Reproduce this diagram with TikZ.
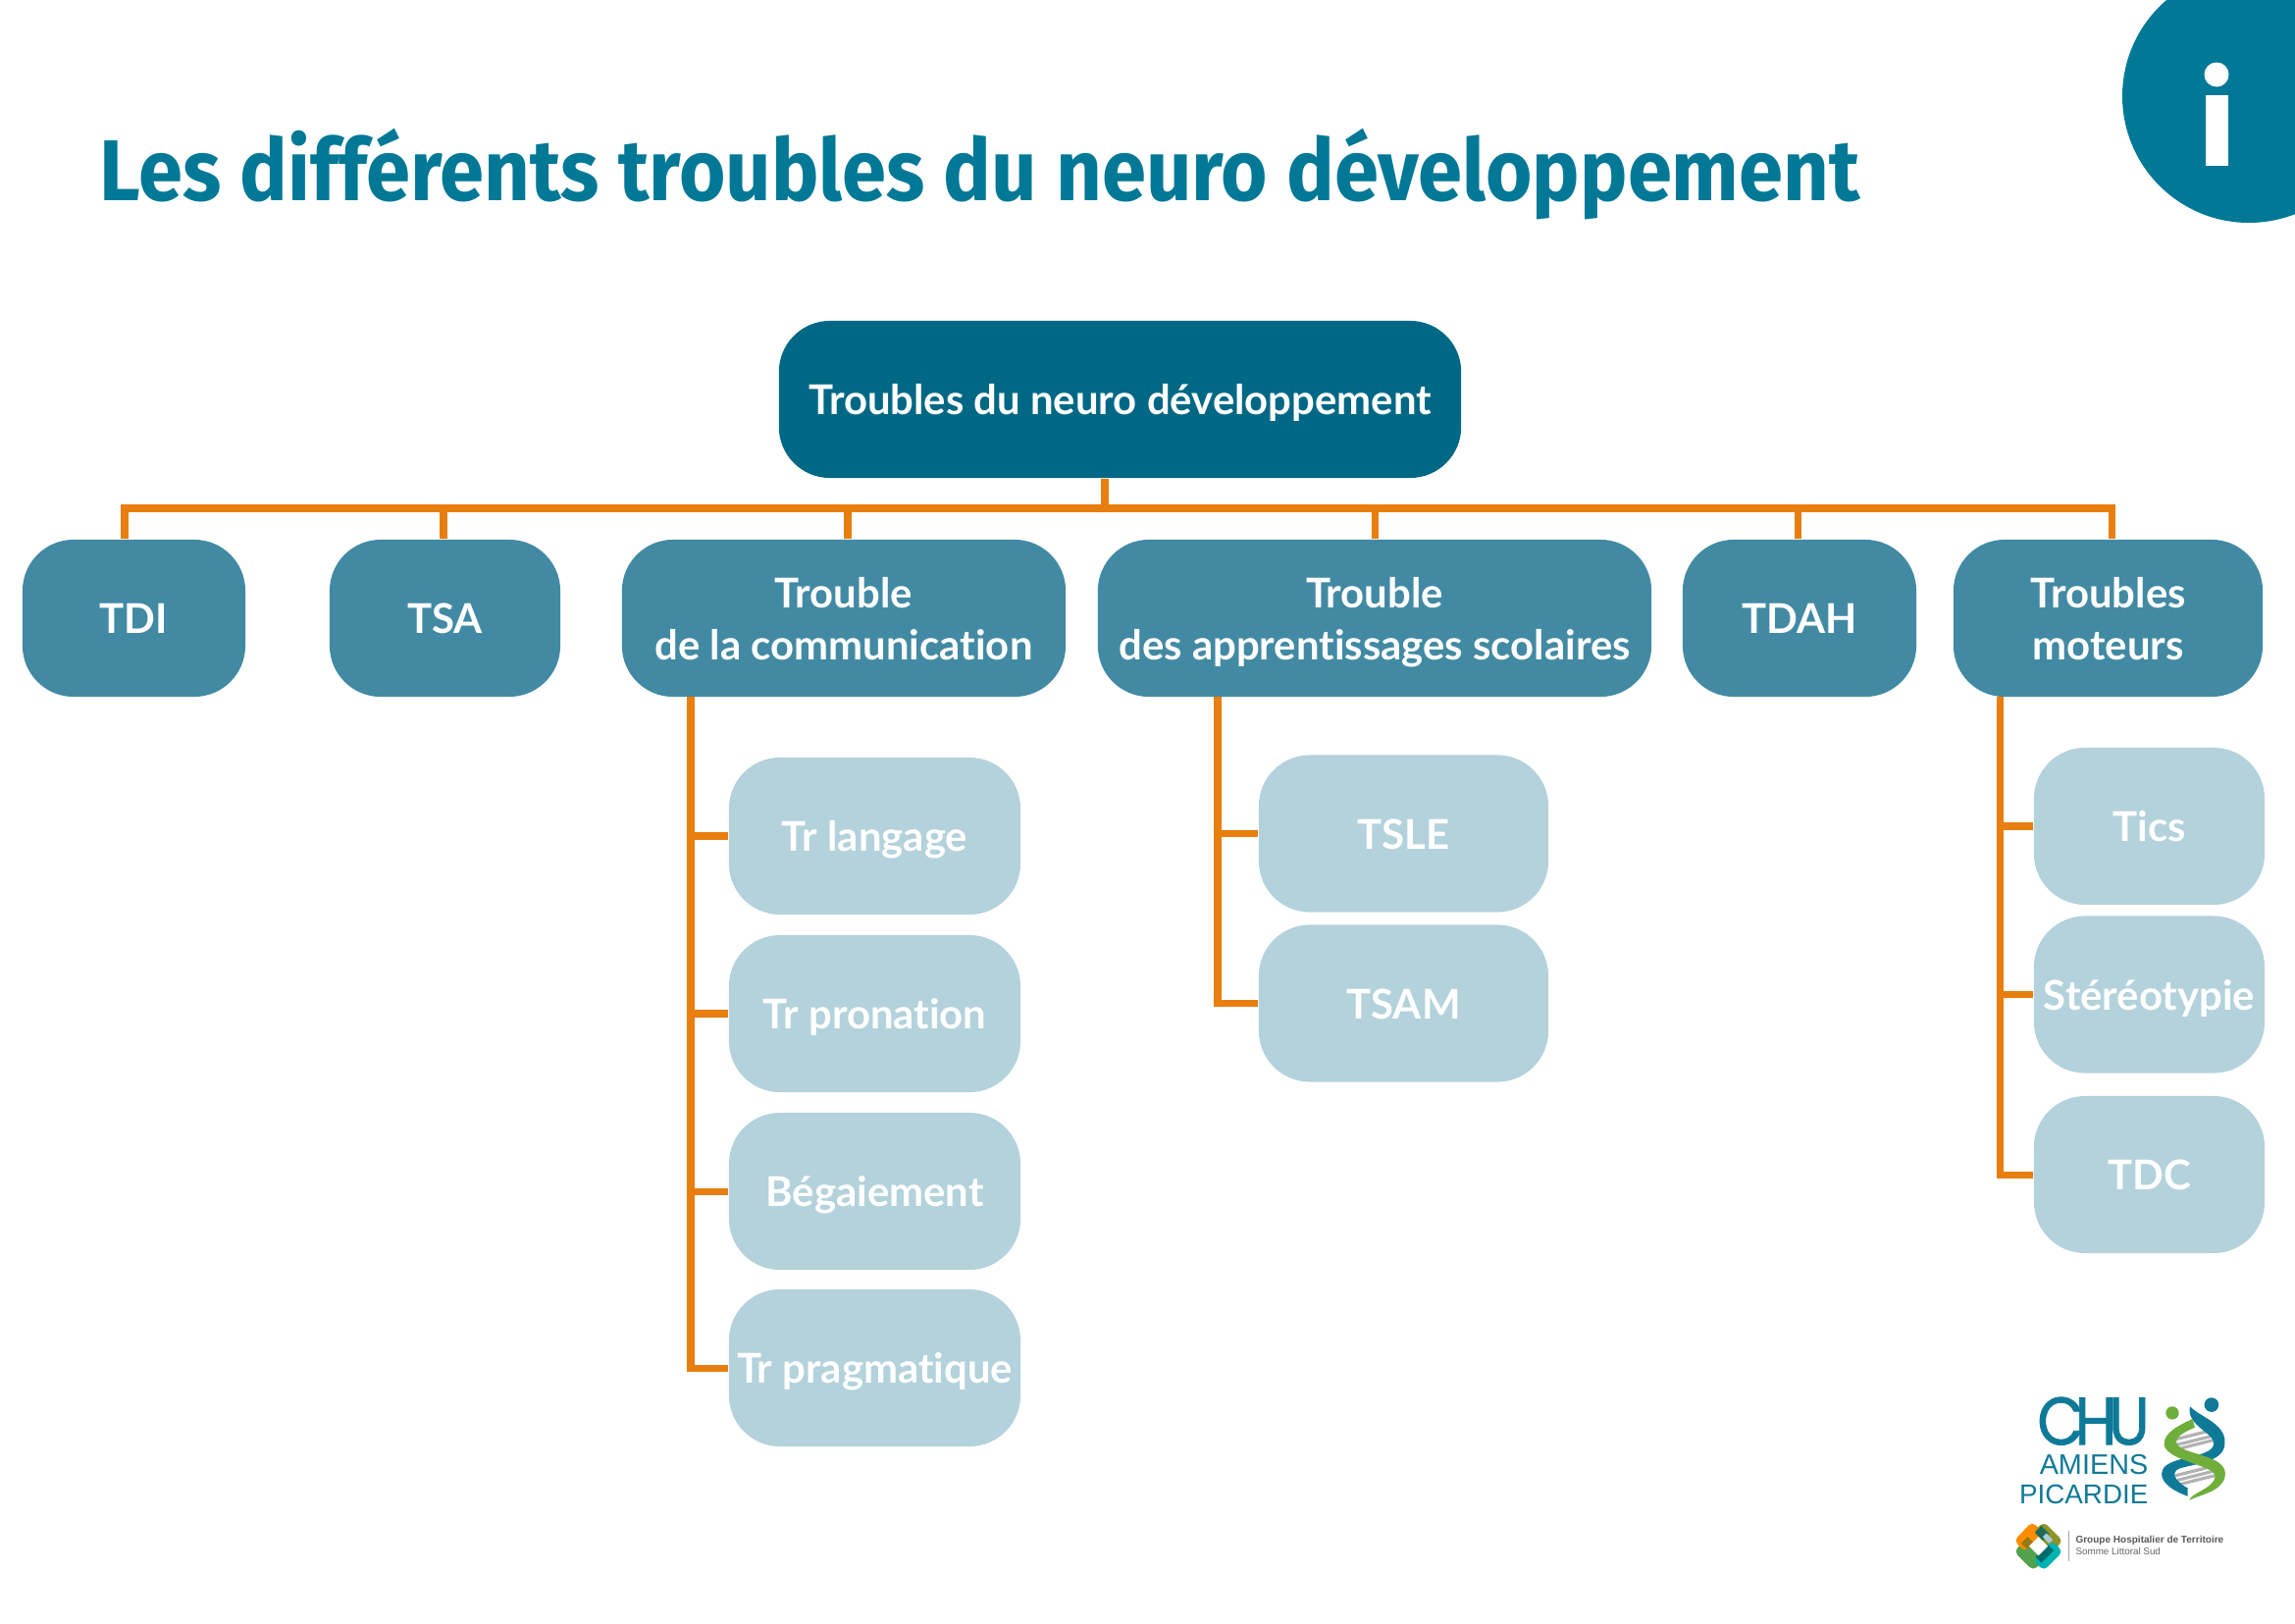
\documentclass[tikz,border=0pt]{standalone}
\usepackage{fontspec}
\usepackage{graphicx}
\setmainfont{Lato}[Ligatures=NoCommon]
\newfontfamily\titlefont{Fira Sans}
\newfontfamily\logofont{Liberation Sans}
\newfontfamily\chufont[FakeBold=1.2]{Poppins}
\usetikzlibrary{calc}
\definecolor{titleblue}{HTML}{007896}
\definecolor{rootblue}{HTML}{006884}
\definecolor{midblue}{HTML}{428AA3}
\definecolor{lightblue}{HTML}{B3D2DB}
\definecolor{conn}{HTML}{E87E0D}
\definecolor{logoblue}{HTML}{0F7A98}
\definecolor{logogreen}{HTML}{6FAE3A}
\newcommand\lnstrut{\rule[-2.8pt]{0pt}{14.6pt}}
\tikzset{
  box/.style={rounded corners=0.52cm,inner sep=0pt,align=center,text=white,
    font=\fontsize{11.9pt}{14.9pt}\selectfont\bfseries},
  rootbox/.style={box,fill=rootblue},
  midbox/.style={box,fill=midblue},
  leafbox/.style={box,fill=lightblue},
  link/.style={draw=conn,line width=2pt},
  lobe/.style={rounded corners=1.4pt},
}
\begin{document}
\begin{tikzpicture}[x=0.01cm,y=-0.01cm]
\useasboundingbox (0,0) rectangle (2339,1654);
% corner disc
\begin{scope}
\clip (0,0) rectangle (2339,1654);
\fill[titleblue] (2292,98) circle (129);
\end{scope}
\fill[white] (2259,76) circle (12.5);
\fill[white] (2248,97) rectangle (2271,169);
% title
\node[anchor=base west,inner sep=0pt,text=titleblue,font=\titlefont\fontsize{25pt}{30pt}\selectfont\bfseries] (title) at (101,204) {\scalebox{0.925}[1]{Les différents troubles du neuro développement}};
% nodes
\node[rootbox,minimum width=6.95cm,minimum height=1.60cm] (root) at (1141.5,407) {\lnstrut Troubles du neuro développement};
\node[midbox,minimum width=2.27cm,minimum height=1.60cm] (tdi) at (136.5,630) {\lnstrut TDI};
\node[midbox,minimum width=2.35cm,minimum height=1.60cm] (tsa) at (453.5,630) {\lnstrut TSA};
\node[midbox,minimum width=4.52cm,minimum height=1.60cm] (comm) at (860,630) {\lnstrut Trouble\\\lnstrut de la communication};
\node[midbox,minimum width=5.64cm,minimum height=1.60cm] (appr) at (1401,630) {\lnstrut Trouble\\\lnstrut des apprentissages scolaires};
\node[midbox,minimum width=2.38cm,minimum height=1.60cm] (tdah) at (1834,630) {\lnstrut TDAH};
\node[midbox,minimum width=3.15cm,minimum height=1.60cm] (mot) at (2148.5,630) {\lnstrut Troubles\\\lnstrut moteurs};
\node[leafbox,minimum width=2.97cm,minimum height=1.60cm] (c1) at (891.5,852) {\lnstrut Tr langage};
\node[leafbox,minimum width=2.97cm,minimum height=1.60cm] (c2) at (891.5,1033) {\lnstrut Tr pronation};
\node[leafbox,minimum width=2.97cm,minimum height=1.60cm] (c3) at (891.5,1214) {\lnstrut Bégaiement};
\node[leafbox,minimum width=2.97cm,minimum height=1.60cm] (c4) at (891.5,1394) {\lnstrut Tr pragmatique};
\node[leafbox,minimum width=2.95cm,minimum height=1.60cm] (a1) at (1430.5,849.5) {\lnstrut TSLE};
\node[leafbox,minimum width=2.95cm,minimum height=1.60cm] (a2) at (1430.5,1022.5) {\lnstrut TSAM};
\node[leafbox,minimum width=2.35cm,minimum height=1.60cm] (m1) at (2190.5,842) {\lnstrut Tics};
\node[leafbox,minimum width=2.35cm,minimum height=1.60cm] (m2) at (2190.5,1013.5) {\lnstrut Stéréotypie};
\node[leafbox,minimum width=2.35cm,minimum height=1.60cm] (m3) at (2190.5,1197) {\lnstrut TDC};
% connectors
\coordinate (busl) at (127,518);
\coordinate (busr) at (2152,518);
\coordinate (rootdrop) at (1126,518);
\coordinate (d2) at (452,518);
\coordinate (d3) at (864,518);
\coordinate (d4) at (1401,518);
\coordinate (d5) at (1832,518);
\coordinate (cx) at (704,710);
\coordinate (ax) at (1241,710);
\coordinate (mx) at (2038,710);
\draw[link,line join=miter] (tdi.north -| busl) -- (busl) -- (busr) -- (mot.north -| busr);
\draw[link] (root.south -| rootdrop) -- (rootdrop);
\draw[link] (d2) -- (tsa.north -| d2);
\draw[link] (d3) -- (comm.north -| d3);
\draw[link] (d4) -- (appr.north -| d4);
\draw[link] (d5) -- (tdah.north -| d5);
\foreach \n in {c1,c2,c3,c4} \draw[link] (cx) |- (\n.west);
\foreach \n in {a1,a2} \draw[link] (ax) |- (\n.west);
\foreach \n in {m1,m2,m3} \draw[link] (mx) |- (\n.west);
% logo, in coordinates of a 3x crop at (1980,1380)
\begin{scope}[shift={(1980,1380)},x=0.003333cm,y=-0.003333cm]
\node[inner sep=0pt,anchor=base east,text=logoblue] (chu) at (635,277) {\chufont\scalebox{0.9}[1]{\fontsize{19.5pt}{20pt}\selectfont C\kern-3pt H\kern-2.6pt U}};
\node[inner sep=0pt,anchor=base east,text=logoblue,font=\logofont\fontsize{8.2pt}{9pt}\selectfont] (amiens) at (631,367) {AMIENS};
\node[inner sep=0pt,anchor=base east,text=logoblue,font=\logofont\fontsize{7.9pt}{9pt}\selectfont] (picardie) at (631,457) {PICARDIE};
\fill[logogreen] (703,180) circle (20);
\fill[logoblue] (823,155) circle (22);
% rungs
\foreach \a/\b in {708/262,715/278,722/290}
  \draw[gray!60,line width=0.9pt] (\a,\b) -- ++(112,-28);
\foreach \a/\b in {712/372,718/386,728/398}
  \draw[gray!60,line width=0.9pt] (\a,\b) -- ++(112,-28);
% strands
\fill[logoblue] (757,160) .. controls (790,195) and (878,215) .. (862,285) .. controls (850,330) and (775,335) .. (725,350) .. controls (700,360) and (705,385) .. (750,410) -- (750,435) .. controls (695,415) and (660,385) .. (673,355) .. controls (690,310) and (825,320) .. (830,275) .. controls (832,240) and (745,220) .. (757,160) -- cycle;
\fill[logogreen] (765,198) -- (772,225) .. controls (720,245) and (695,270) .. (735,290) .. controls (785,312) and (875,320) .. (864,375) .. controls (855,420) and (790,430) .. (755,447) .. controls (760,425) and (832,410) .. (834,375) .. controls (836,340) and (695,330) .. (678,280) .. controls (672,240) and (730,215) .. (765,198) -- cycle;
% group mark
\begin{scope}[shift={(293,588)},scale=1.1]
\fill[logogreen!75!teal,lobe] (-15,68) -- (-68,15) -- (-40,-15) -- (14,40) -- cycle;
\fill[orange!90!yellow,lobe] (-68,-15) -- (-18,-68) -- (14,-38) -- (-38,15) -- cycle;
\fill[olive!60!logogreen,lobe] (15,-68) -- (68,-15) -- (40,15) -- (-14,-40) -- cycle;
\fill[teal!60!cyan,lobe] (68,15) -- (15,68) -- (-15,40) -- (38,-15) -- cycle;
\fill[olive!80!black,opacity=.75] (-48,-8) -- (-30,-26) -- (-14,-10) -- (-32,8) -- cycle;
\fill[teal!75!black,opacity=.8] (-10,-38) -- (8,-56) -- (30,-34) -- (12,-16) -- cycle;
\fill[teal!85!black] (26,-4) -- (42,12) -- (8,46) -- (-8,30) -- cycle;
\fill[cyan!25!teal!40] (12,-26) -- (30,-8) -- (40,-18) -- (22,-36) -- cycle;
\fill[white] (0,-26) -- (26,0) -- (0,26) -- (-26,0) -- cycle;
\end{scope}
\draw[gray!70,line width=0.3pt] (385,540) -- (385,635);
\node[anchor=base west,inner sep=0pt,text=black!65,font=\logofont\fontsize{2.85pt}{4pt}\selectfont\bfseries] (ght) at (405,578) {Groupe Hospitalier de Territoire};
\node[anchor=base west,inner sep=0pt,text=black!60,font=\logofont\fontsize{2.8pt}{4pt}\selectfont] (sls) at (405,615) {Somme Littoral Sud};
\end{scope}
\end{tikzpicture}
\end{document}
